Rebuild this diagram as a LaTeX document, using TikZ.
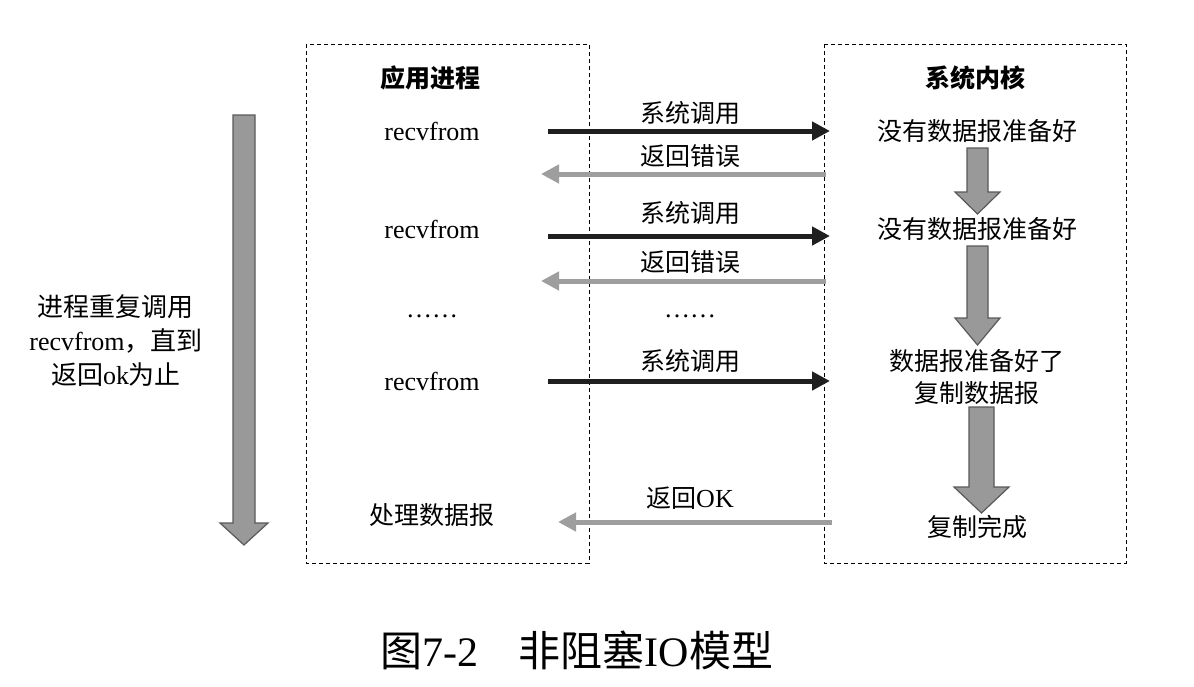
\documentclass[tikz,border=0pt]{standalone}
\usepackage{fontspec}
\setmainfont{Liberation Serif}
\newfontfamily\cjk{Noto Sans CJK SC}
\usetikzlibrary{arrows.meta}

\begin{document}
\begin{tikzpicture}[x=0.5pt,y=-0.5pt]
				    \tikzstyle{frame}=[draw,line width=.5pt,dash pattern=on 2pt off 1.5pt]
				    \tikzstyle{call}=[draw,line width=2.5pt,color=black!88,-{Triangle[length=9pt,width=9pt]}]
				    \tikzstyle{back}=[draw,line width=2.5pt,color=black!38,-{Triangle[length=9pt,width=9pt]}]
				    \tikzstyle{block}=[line width=.6pt,fill=black!40,draw=black!65,line join=miter]
				    \tikzstyle{txt}=[font=\cjk\fontsize{12.5}{16}\selectfont,inner sep=0pt,align=center]
				    \tikzstyle{lat}=[font=\fontsize{13}{16}\selectfont,inner sep=0pt]
				    \useasboundingbox (0,0) rectangle (1194,686);
				    \draw[frame] (306,44) rectangle (589,563);
				    \draw[frame] (824,44) rectangle (1126,563);
				    \node[txt,font=\cjk\bfseries\fontsize{12.5}{16}\selectfont] (app) at (430,78) {应用进程};
				    \node[txt,font=\cjk\bfseries\fontsize{12.5}{16}\selectfont] (kern) at (975,78) {系统内核};
				    % process side
				    \node[lat] (r1) at (432,131) {recvfrom};
				    \node[lat] (r2) at (432,229) {recvfrom};
				    \node[lat] (dots1) at (432,316) {……};
				    \node[lat] (r3) at (432,381) {recvfrom};
				    \node[txt] (proc) at (432,515) {处理数据报};
				    % kernel side
				    \node[txt] (k1) at (977,131) {没有数据报准备好};
				    \node[txt] (k2) at (977,229) {没有数据报准备好};
				    \node[txt] (k3) at (977,377) {数据报准备好了\\复制数据报};
				    \node[txt] (k4) at (977,527) {复制完成};
				    % arrows between
				    \coordinate (c1a) at (548,131); \coordinate (c1b) at (830,131);
				    \coordinate (e1a) at (826,174); \coordinate (e1b) at (541,174);
				    \coordinate (c2a) at (548,236); \coordinate (c2b) at (830,236);
				    \coordinate (e2a) at (826,281); \coordinate (e2b) at (541,281);
				    \coordinate (c3a) at (548,381); \coordinate (c3b) at (830,381);
				    \coordinate (oka) at (832,522); \coordinate (okb) at (558,522);
				    \draw[call] (c1a) -- (c1b);
				    \draw[back] (e1a) -- (e1b);
				    \draw[call] (c2a) -- (c2b);
				    \draw[back] (e2a) -- (e2b);
				    \draw[call] (c3a) -- (c3b);
				    \draw[back] (oka) -- (okb);
				    \node[txt] (l1) at (690,113) {系统调用};
				    \node[txt] (l2) at (690,156) {返回错误};
				    \node[txt] (l3) at (690,213) {系统调用};
				    \node[txt] (l4) at (690,262) {返回错误};
				    \node[lat] (dots2) at (690,316) {……};
				    \node[txt] (l5) at (690,361) {系统调用};
				    \node[txt] (l6) at (690,498) {{\cjk 返回}\fontsize{13}{16}\selectfont\rmfamily OK};
				    % block arrows
				    \draw[block] (967,148) -- (988,148) -- (988,192) -- (1000,192) -- (977.5,214) -- (955,192) -- (967,192) -- cycle;
				    \draw[block] (967,246) -- (988,246) -- (988,318) -- (1000,318) -- (977.5,345) -- (955,318) -- (967,318) -- cycle;
				    \draw[block] (969,407) -- (994,407) -- (994,487) -- (1009,487) -- (981.5,513) -- (954,487) -- (969,487) -- cycle;
				    \draw[block] (233,115) -- (255,115) -- (255,523) -- (268,523) -- (244,545) -- (220,523) -- (233,523) -- cycle;
				    \node[txt,font=\fontsize{13}{17}\selectfont] (loop) at (116,341) {{\cjk 进程重复调用}\\recvfrom{\cjk ，直到}\\{\cjk 返回}ok{\cjk 为止}};
				    \node[inner sep=0pt,font=\fontsize{21}{24}\selectfont] (cap) at (577,650) {{\cjk 图}7-2\hspace{20pt}{\cjk 非阻塞}IO{\cjk 模型}};
\end{tikzpicture}
\end{document}
